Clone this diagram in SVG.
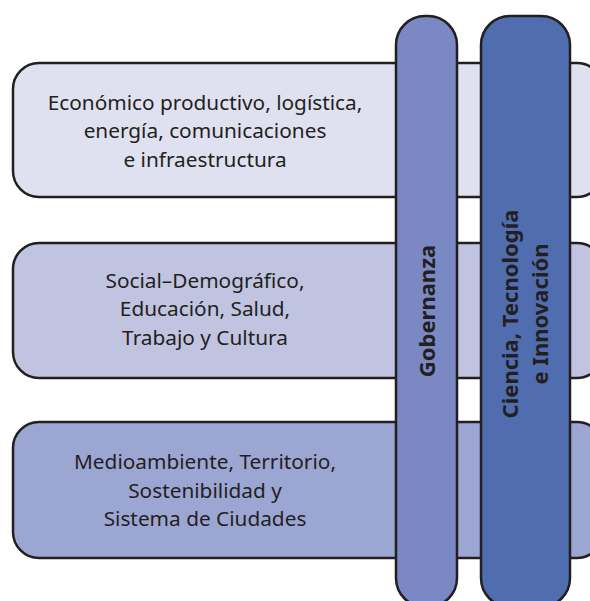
<svg xmlns="http://www.w3.org/2000/svg" width="590" height="601" viewBox="0 0 590 601">
<style>
.box{stroke:#231f20;stroke-width:2.5}
.t{font-family:"Noto Sans","Open Sans",sans-serif;font-size:20.8px;fill:#231f20;text-anchor:middle}
.v{font-family:"Noto Sans","Open Sans",sans-serif;font-size:22px;font-weight:bold;fill:#231f20;text-anchor:middle}
</style>
<rect width="590" height="601" fill="#ffffff"/>
<g id="economico">
<rect class="box" x="13" y="63" width="590" height="134" rx="26" fill="#e0e1f0"/>
<text class="t" x="205" y="110">Económico productivo, logística,</text>
<text class="t" x="205" y="138">energía, comunicaciones</text>
<text class="t" x="205" y="167">e infraestructura</text>
</g>
<g id="social">
<rect class="box" x="13" y="243" width="590" height="135" rx="26" fill="#c1c4e1"/>
<text class="t" x="205" y="288">Social–Demográfico,</text>
<text class="t" x="205" y="316">Educación, Salud,</text>
<text class="t" x="205" y="345">Trabajo y Cultura</text>
</g>
<g id="medioambiente">
<rect class="box" x="13" y="422" width="590" height="136" rx="26" fill="#9ca6d3"/>
<text class="t" x="205" y="469">Medioambiente, Territorio,</text>
<text class="t" x="205" y="498">Sostenibilidad y</text>
<text class="t" x="205" y="526">Sistema de Ciudades</text>
</g>
<g id="gobernanza">
<rect class="box" x="396" y="16" width="61" height="591" rx="29" fill="#7a89c4"/>
<text class="v" transform="translate(435,311) rotate(-90)">Gobernanza</text>
</g>
<g id="ciencia">
<rect class="box" x="481" y="16" width="89" height="591" rx="29" fill="#506db0"/>
<text class="v" transform="translate(518,314) rotate(-90)">Ciencia, Tecnología</text>
<text class="v" transform="translate(548,314) rotate(-90)">e Innovación</text>
</g>
<g id="connectors"></g>
</svg>
